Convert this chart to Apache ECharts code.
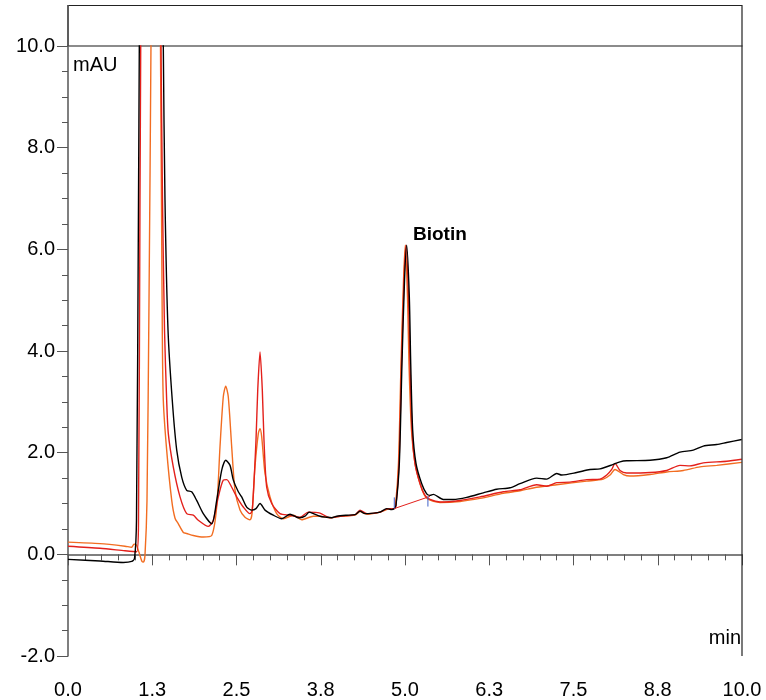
<!DOCTYPE html>
<html>
<head>
<meta charset="utf-8">
<script src="https://cdn.jsdelivr.net/npm/echarts@6/dist/echarts.min.js"></script>
<style>html,body{margin:0;padding:0;background:#fff}#c{width:766px;height:700px}</style>
</head>
<body>
<div id="c"></div>
<script>
// ---- data (time in min, absorbance in mAU) ----
var xTicks = [0, 1.25, 2.5, 3.75, 5, 6.25, 7.5, 8.75, 10];
var yTicks = [-2, 0, 2, 4, 6, 8, 10];

var blackT = [0,0.475,0.82,0.945,0.987,1.016,1.046,1.058,1.075,1.395,1.414,1.439,1.484,1.547,1.613,1.687,1.761,1.835,1.909,2.007,2.132,2.206,2.28,2.34,2.404,2.453,2.527,2.577,2.651,2.726,2.789,2.849,2.923,3.046,3.171,3.294,3.393,3.442,3.516,3.58,3.64,3.739,3.838,3.912,3.987,4.135,4.258,4.332,4.407,4.53,4.629,4.729,4.803,4.841,4.866,4.916,4.955,4.993,5.025,5.064,5.085,5.114,5.163,5.248,5.322,5.371,5.42,5.568,5.717,5.915,6.162,6.36,6.558,6.706,6.954,7.102,7.251,7.325,7.547,7.745,7.893,8.091,8.19,8.289,8.635,8.883,9.08,9.277,9.426,9.625,9.773,9.996];
var blackV = [-0.10,-0.13,-0.16,-0.14,-0.08,0.67,6.97,10.0,14,14,10.0,6.97,4.41,3.03,2.05,1.52,1.26,1.23,1.06,0.80,0.60,1.06,1.65,1.85,1.75,1.46,1.23,1.13,0.93,0.87,0.90,1.00,0.87,0.77,0.70,0.79,0.73,0.72,0.75,0.83,0.80,0.75,0.73,0.72,0.75,0.77,0.78,0.85,0.80,0.81,0.83,0.90,0.88,0.90,0.96,1.79,3.75,5.39,6.08,5.07,3.75,2.44,1.79,1.39,1.19,1.16,1.18,1.08,1.08,1.12,1.21,1.28,1.31,1.39,1.50,1.48,1.59,1.56,1.61,1.67,1.68,1.77,1.82,1.84,1.85,1.90,2.01,2.05,2.13,2.16,2.20,2.26];

var redT = [0,0.475,0.846,1.019,1.046,1.068,1.079,1.09,1.365,1.38,1.402,1.432,1.464,1.488,1.562,1.662,1.761,1.859,1.933,2.082,2.156,2.23,2.304,2.355,2.429,2.503,2.601,2.7,2.734,2.789,2.815,2.849,2.883,2.908,2.948,3.022,3.145,3.294,3.442,3.565,3.739,3.887,4.036,4.258,4.332,4.436,4.629,4.748,4.841,4.866,4.911,4.948,4.985,5.015,5.052,5.074,5.104,5.148,5.223,5.297,5.371,5.519,5.816,6.113,6.458,6.706,6.954,7.102,7.251,7.448,7.696,7.893,7.993,8.067,8.116,8.19,8.289,8.635,8.883,9.08,9.228,9.426,9.773,9.996];
var redV = [0.16,0.12,0.07,0.05,0.67,6.97,10.0,14,14,10.0,6.97,4.41,3.03,2.38,1.72,1.13,0.80,0.77,0.67,0.55,0.67,1.13,1.46,1.47,1.32,1.13,0.93,0.80,0.87,2.24,3.23,3.98,3.23,2.24,1.32,1.00,0.80,0.77,0.73,0.83,0.81,0.72,0.75,0.78,0.87,0.80,0.83,0.90,0.90,0.96,1.79,3.75,5.39,6.08,5.07,3.75,2.44,1.79,1.39,1.16,1.08,1.03,1.06,1.13,1.23,1.27,1.37,1.34,1.41,1.42,1.47,1.48,1.56,1.67,1.79,1.65,1.60,1.61,1.65,1.75,1.74,1.80,1.83,1.87];

var orangeT = [0,0.475,0.846,0.945,0.979,1.016,1.053,1.098,1.12,1.142,1.172,1.202,1.231,1.246,1.358,1.372,1.387,1.399,1.414,1.464,1.539,1.588,1.637,1.711,1.761,1.859,2.007,2.132,2.206,2.255,2.304,2.34,2.378,2.429,2.478,2.552,2.626,2.7,2.73,2.774,2.824,2.849,2.874,2.923,2.997,3.096,3.194,3.343,3.467,3.64,3.739,3.887,4.036,4.258,4.332,4.436,4.629,4.748,4.837,4.859,4.903,4.941,4.978,5.004,5.037,5.059,5.096,5.148,5.223,5.282,5.346,5.519,5.816,6.113,6.458,6.706,6.954,7.251,7.696,7.942,8.042,8.116,8.24,8.338,8.635,8.883,9.129,9.377,9.625,9.996];
var orangeV = [0.24,0.21,0.16,0.14,0.20,0.18,0.04,-0.14,-0.15,-0.02,1.06,5.00,10.0,14,14,10.0,6.97,4.41,3.03,2.05,1.06,0.71,0.60,0.43,0.41,0.37,0.34,0.37,0.93,2.11,3.10,3.31,3.10,2.11,1.26,0.87,0.73,0.68,0.80,1.72,2.38,2.47,2.31,1.59,1.13,0.80,0.70,0.77,0.68,0.75,0.75,0.72,0.75,0.77,0.84,0.79,0.83,0.89,0.90,0.96,1.79,3.75,5.39,6.08,5.07,3.75,2.44,1.79,1.39,1.18,1.08,1.02,1.04,1.10,1.20,1.25,1.32,1.37,1.44,1.48,1.56,1.67,1.57,1.54,1.57,1.62,1.65,1.72,1.75,1.81];

// integration baseline and marks for the Biotin peak
var baseT = [4.841, 5.371];
var baseV = [0.90, 1.14];
var markStartT = [4.841, 4.841];
var markStartV = [0.90, 1.12];
var markEndT = [5.34, 5.34];
var markEndV = [0.94, 1.14];

var peakName = 'Biotin';

function pairs(t, v) { return t.map(function (x, i) { return [x, v[i]]; }); }

var chart = echarts.init(document.getElementById('c'), null, {renderer: 'canvas'});
var font = 'Liberation Sans, Arial, sans-serif';
function lineSeries(name, t, v, color, z) {
  return {
    name: name, type: 'line', data: pairs(t, v), showSymbol: false, symbol: 'none',
    smooth: 0.25,
    lineStyle: {color: color, width: 1.4}, z: z, animation: false, clip: true
  };
}
chart.setOption({
  animation: false,
  backgroundColor: '#fff',
  grid: {left: 68, right: 24, top: 46, bottom: 44},
  xAxis: [{
    type: 'value', min: 0, max: 10, interval: 1.25,
    axisLine: {show: true, lineStyle: {color: '#555', width: 1.5}},
    axisTick: {show: true, length: 11, lineStyle: {color: '#555', width: 1}},
    minorTick: {show: true, splitNumber: 5, length: 6, lineStyle: {color: '#555', width: 1}},
    splitLine: {show: false},
    axisLabel: {color: '#000', fontSize: 20, fontFamily: font, margin: 24,
      formatter: function (v) { return v.toFixed(1); }}
  }, {
    type: 'value', min: 0, max: 10, position: 'top',
    axisLine: {show: true, onZero: false, lineStyle: {color: '#666', width: 1.5}},
    axisTick: {show: false}, axisLabel: {show: false}, splitLine: {show: false}
  }],
  yAxis: {
    type: 'value', min: -2, max: 10, interval: 2,
    axisLine: {show: true, onZero: false, lineStyle: {color: '#555', width: 1.5}},
    axisTick: {show: true, length: 11, lineStyle: {color: '#555', width: 1}},
    minorTick: {show: true, splitNumber: 4, length: 6, lineStyle: {color: '#555', width: 1}},
    splitLine: {show: false},
    axisLabel: {color: '#000', fontSize: 20, fontFamily: font, margin: 13,
      formatter: function (v) { return v.toFixed(1); }}
  },
  series: [
    lineSeries('orange', orangeT, orangeV, '#f26d21', 2),
    lineSeries('red', redT, redV, '#e3201b', 3),
    lineSeries('black', blackT, blackV, '#000000', 4),
    {type: 'line', data: pairs(baseT, baseV), showSymbol: false, lineStyle: {color: '#e3201b', width: 1}, z: 5},
    {type: 'line', data: pairs(markStartT, markStartV), showSymbol: false, lineStyle: {color: '#4060c8', width: 1}, z: 6},
    {type: 'line', data: pairs(markEndT, markEndV), showSymbol: false, lineStyle: {color: '#4060c8', width: 1}, z: 6}
  ],
  graphic: [
    {type: 'polyline', shape: {points: [[68, 46], [68, 5.5], [742, 5.5], [742, 656]]},
     style: {stroke: '#222', lineWidth: 1.2, fill: null}, z: 10},
    {type: 'line', shape: {x1: 68, y1: 5, x2: 68, y2: 46}, style: {stroke: '#555', lineWidth: 1.5}, z: 11},
    {type: 'text', left: 73, top: 55, style: {text: 'mAU', font: '20px ' + font, fill: '#000'}, z: 12},
    {type: 'text', right: 25, top: 628, style: {text: 'min', font: '20px ' + font, fill: '#000'}, z: 12},
    {type: 'text', left: 413, top: 225, style: {text: peakName, font: 'bold 19px ' + font, fill: '#000'}, z: 12}
  ]
});
</script>
</body>
</html>
